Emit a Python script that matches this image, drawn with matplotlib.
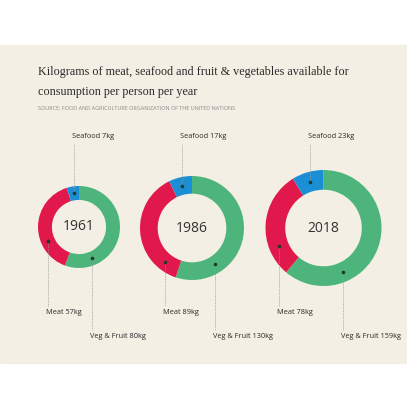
import numpy as np
import matplotlib.pyplot as plt
from matplotlib.patches import Rectangle

# data (kg per person per year)
years = ['1961', '1986', '2018']
veg = [80, 130, 159]
meat = [57, 89, 78]
seafood = [7, 17, 23]

colors = ['#4db57b', '#e1184b', '#1b8fd6']
bg = '#f4efe4'

# layout (pixels, y up)
centers = [(79, 180), (192, 179), (323.5, 179)]
radii = [41, 52, 58]
# where along each segment the label dot sits (0..1)
dot_frac = {'veg': [0.785, 0.745, 0.71], 'meat': [0.32, 0.15, 0.26], 'sea': [0.5, 0.5, 0.5]}

fig = plt.figure(figsize=(4.07, 4.07), dpi=100, facecolor='white')
ax = fig.add_axes([0, 0, 1, 1])
ax.add_patch(Rectangle((0, 44), 407, 318, color=bg, zorder=0))

fig.text(38 / 407, 325 / 407,
         'Kilograms of meat, seafood and fruit & vegetables available for\nconsumption per person per year',
         family='Liberation Serif', fontsize=8.7, color='#2a2a2a', va='center', ha='left',
         linespacing=1.9)
fig.text(38 / 407, 299 / 407, 'SOURCE: FOOD AND AGRICULTURE ORGANIZATION OF THE UNITED NATIONS',
         family='Open Sans', fontsize=4.0, color='#8a8a8a', va='center', ha='left')


def dot_pos(c, r, angle_cw):
    # angle measured clockwise from 12 o'clock, in degrees
    a = np.deg2rad(angle_cw)
    return c[0] + r * np.sin(a), c[1] + r * np.cos(a)


for i in range(3):
    vals = [veg[i], meat[i], seafood[i]]
    c, r = centers[i], radii[i]
    w = 0.34 * r
    ax.pie(vals, colors=colors, startangle=90, counterclock=False, center=c, radius=r,
           wedgeprops=dict(width=w, linewidth=0), frame=True)
    ax.text(c[0], c[1], years[i], ha='center', va='center', fontsize=10,
            family='Open Sans', color='#333333')

    tot = sum(vals)
    bounds = np.cumsum([0] + vals) / tot * 360
    rm = r - w / 2
    labels = [('Veg & Fruit %dkg' % veg[i], bounds[0] + dot_frac['veg'][i] * (bounds[1] - bounds[0]), 70),
              ('Meat %dkg' % meat[i], bounds[1] + dot_frac['meat'][i] * (bounds[2] - bounds[1]), 94),
              ('Seafood %dkg' % seafood[i], bounds[2] + dot_frac['sea'][i] * (bounds[3] - bounds[2]), 270)]
    for txt, ang, ty in labels:
        dx, dy = dot_pos(c, rm, ang)
        ax.plot(dx, dy, 'o', ms=1.6, color='#1f3b2c', zorder=5)
        if ty > dy:
            ax.plot([dx, dx], [dy + 2, ty - 7], ls=(0, (1, 1.2)), lw=0.6, color='#999999')
        else:
            ax.plot([dx, dx], [dy - 2, ty + 7], ls=(0, (1, 1.2)), lw=0.6, color='#999999')
        ax.text(dx - 2, ty, txt, ha='left', va='center', fontsize=5.3, family='Open Sans',
                color='#2b2b2b')

ax.set_xlim(0, 407)
ax.set_ylim(0, 407)
ax.set_aspect('equal')
ax.axis('off')
fig.savefig('out.png', dpi=100, facecolor='white')
